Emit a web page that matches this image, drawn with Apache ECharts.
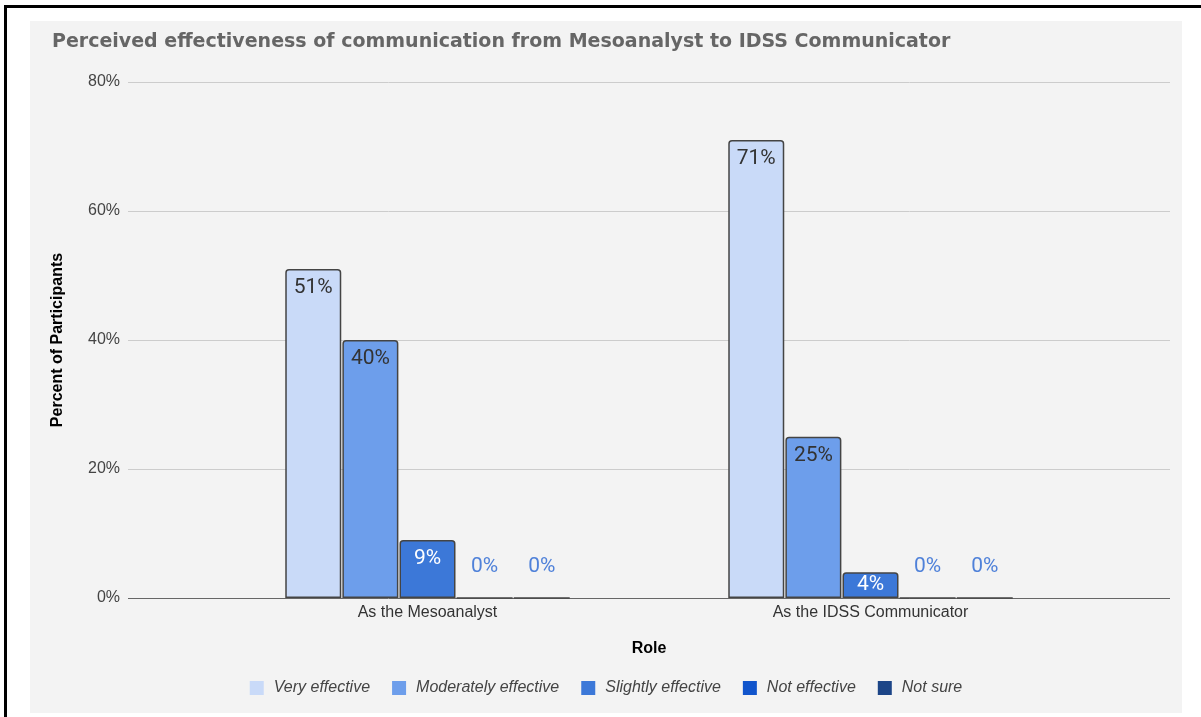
<!DOCTYPE html>
<html>
<head>
<meta charset="utf-8">
<title>Perceived effectiveness of communication</title>
<script src="https://cdn.jsdelivr.net/npm/echarts@6/dist/echarts.min.js"></script>
<style>
  html, body { margin: 0; padding: 0; background: #ffffff; width: 1201px; height: 717px; overflow: hidden; }
  .frame-top { position: absolute; left: 4px; top: 5px; width: 1197px; height: 3px; background: #000; }
  .frame-left { position: absolute; left: 4px; top: 5px; width: 3px; height: 712px; background: #000; }
  #chart { position: absolute; left: 30px; top: 21px; width: 1152px; height: 692px; background: #f3f3f3; }
</style>
</head>
<body>
<div class="frame-top"></div>
<div class="frame-left"></div>
<div id="chart"></div>
<script>
// Survey results: share of participants per rating, for each role
const roles = ['As the Mesoanalyst', 'As the IDSS Communicator'];
const ratings = ['Very effective', 'Moderately effective', 'Slightly effective', 'Not effective', 'Not sure'];
const veryEffective = [51, 71];
const moderatelyEffective = [40, 25];
const slightlyEffective = [9, 4];
const notEffective = [0, 0];
const notSure = [0, 0];
const yTicks = [0, 20, 40, 60, 80];

const seriesValues = [veryEffective, moderatelyEffective, slightlyEffective, notEffective, notSure];
const colors = ['#c9daf8', '#6d9eeb', '#3c78d8', '#1155cc', '#1c4587'];
const labelColors = ['#333333', '#333333', '#ffffff', '#ffffff', '#ffffff'];

const chart = echarts.init(document.getElementById('chart'));

// Zero values get their label above the baseline; short bars centre it
function pointLabel(v, s) {
  if (v === 0) {
    return { show: true, position: 'top', distance: 20, color: '#4f81d9' };
  }
  if (v < 6) {
    return { show: true, position: 'inside', color: labelColors[s] };
  }
  return { show: true, position: 'insideTop', distance: 8, color: labelColors[s] };
}

const series = seriesValues.map((vals, s) => ({
  name: ratings[s],
  type: 'bar',
  xAxisIndex: 1,
  yAxisIndex: 1,
  barWidth: 56,
  barGap: '2%',
  itemStyle: {
    color: colors[s],
    borderColor: '#444444',
    borderWidth: 1.5,
    borderRadius: [3, 3, 0, 0]
  },
  label: {
    fontFamily: 'Roboto',
    fontSize: 21,
    formatter: p => p.value + '%'
  },
  data: vals.map(v => ({ value: v, label: pointLabel(v, s) }))
}));

chart.setOption({
  animation: false,
  backgroundColor: '#f3f3f3',
  title: {
    text: 'Perceived effectiveness of communication from Mesoanalyst to IDSS Communicator',
    left: 17,
    top: 7,
    textStyle: { fontFamily: 'DejaVu Sans', fontWeight: 'bold', fontSize: 19, color: '#666666' }
  },
  legend: {
    data: ratings,
    left: 'center',
    top: 654,
    icon: 'rect',
    itemWidth: 14,
    itemHeight: 14,
    itemGap: 22,
    itemStyle: { borderWidth: 0 },
    textStyle: {
      fontFamily: 'Liberation Sans',
      fontStyle: 'italic',
      fontSize: 16,
      color: '#444444',
      padding: [0, 0, 0, 5]
    }
  },
  grid: [
    { left: 98, right: 12, top: 61, bottom: 115 },
    { left: 176, right: 90, top: 61, bottom: 115 }
  ],
  xAxis: [
    { gridIndex: 0, type: 'value', show: false, min: 0, max: 1 },
    {
      gridIndex: 1,
      type: 'category',
      data: roles,
      axisLine: { show: false },
      axisTick: { show: false },
      axisLabel: { fontFamily: 'Liberation Sans', fontSize: 16, color: '#333333', margin: 7 },
      name: 'Role',
      nameLocation: 'middle',
      nameGap: 43,
      nameTextStyle: { fontFamily: 'Liberation Sans', fontWeight: 'bold', fontSize: 16, color: '#000000' }
    }
  ],
  yAxis: [
    {
      gridIndex: 0,
      type: 'value',
      min: yTicks[0],
      max: yTicks[yTicks.length - 1],
      interval: yTicks[1] - yTicks[0],
      axisLine: { show: false },
      axisTick: { show: false },
      axisLabel: { formatter: '{value}%', fontFamily: 'Liberation Sans', fontSize: 16, color: '#444444', margin: 8 },
      splitLine: { lineStyle: { color: ['#666666', '#cccccc', '#cccccc', '#cccccc', '#cccccc'], width: 1 } },
      name: 'Percent of Participants',
      nameLocation: 'middle',
      nameGap: 62,
      nameTextStyle: { fontFamily: 'Liberation Sans', fontWeight: 'bold', fontSize: 16, color: '#000000' }
    },
    {
      gridIndex: 1,
      type: 'value',
      min: yTicks[0],
      max: yTicks[yTicks.length - 1],
      interval: yTicks[1] - yTicks[0],
      show: false,
      splitLine: { show: false }
    }
  ],
  series: series
});
</script>
</body>
</html>
